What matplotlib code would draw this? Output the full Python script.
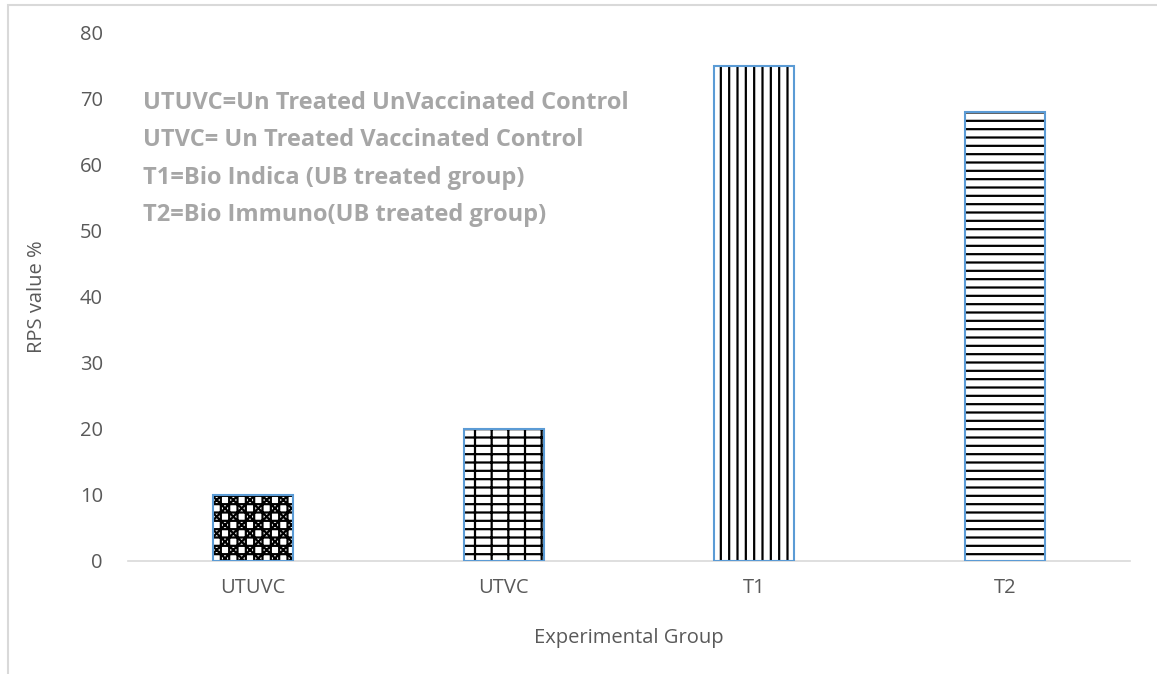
import matplotlib
matplotlib.use("Agg")
from matplotlib import pyplot as plt
from matplotlib.patches import Rectangle

# data
groups = ["UTUVC", "UTVC", "T1", "T2"]
rps_values = [10, 20, 75, 68]
hatches = ["xx++", "--|", "||", "--"]
notes = [
    "UTUVC=Un Treated UnVaccinated Control",
    "UTVC= Un Treated Vaccinated Control",
    "T1=Bio Indica (UB treated group)",
    "T2=Bio Immuno(UB treated group)",
]
note_y = [69.4, 63.8, 58.0, 52.4]

plt.rcParams['font.family'] = ['Open Sans', 'DejaVu Sans']
plt.rcParams['hatch.linewidth'] = 1.6
plt.rcParams['hatch.color'] = 'black'

TXT = '#595959'

fig = plt.figure(figsize=(11.57, 6.74), dpi=100)
ax = fig.add_axes([128 / 1157, 1 - 561 / 674, 1002 / 1157, (561 - 33) / 674])

# chart frame (partly cut off like the reference)
fig.patches.append(Rectangle((8 / 1157, -0.1), 1.2, 1 - 5 / 674 + 0.1,
                             transform=fig.transFigure, fill=False,
                             edgecolor='#D9D9D9', linewidth=1.5))

x = range(len(groups))
for i, (v, h) in enumerate(zip(rps_values, hatches)):
    ax.bar(i, v, width=0.32, color='white', hatch=h,
           edgecolor='#5B9BD5', linewidth=1.5, zorder=3)
# hatch lines black, bar edge stays blue
for p in ax.patches:
    p._hatch_color = (0, 0, 0, 1)

ax.set_xlim(-0.5, 3.5)
ax.set_ylim(0, 80)
ax.set_yticks(range(0, 81, 10))
ax.set_xticks(list(x))
ax.set_xticklabels(groups)

for s in ['top', 'right', 'left']:
    ax.spines[s].set_visible(False)
ax.spines['bottom'].set_color('#D9D9D9')
ax.spines['bottom'].set_linewidth(1.2)
ax.tick_params(axis='both', length=0, labelsize=14.5, colors=TXT)
ax.tick_params(axis='y', pad=18)
ax.tick_params(axis='x', pad=12)

ax.set_ylabel("RPS value %", fontsize=14.5, color=TXT, labelpad=24)
ax.set_xlabel("Experimental Group", fontsize=14.5, color=TXT, labelpad=22)

for t, yy in zip(notes, note_y):
    ax.text(-0.44, yy, t, fontsize=17, color='#A6A6A6', va='center',
            ha='left', fontweight='bold')

fig.savefig('out.png', dpi=100)
